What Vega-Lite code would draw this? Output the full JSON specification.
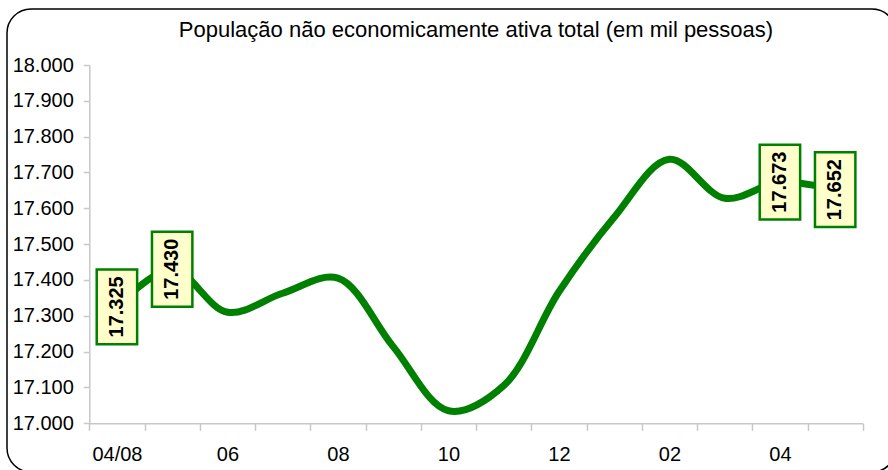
{
  "$schema": "https://vega.github.io/schema/vega-lite/v6.json",
  "width": 889,
  "height": 463,
  "autosize": {"type": "none"},
  "padding": {"left": 7, "top": 9, "right": -8, "bottom": -2},
  "background": "white",
  "config": {
    "locale": {"number": {"decimal": ",", "thousands": ".", "grouping": [3], "currency": ["R$", ""]}},
    "view": {"stroke": "black", "strokeWidth": 1.5, "cornerRadius": 24, "fill": "white"},
    "font": "Liberation Sans"
  },
  "title": {
    "text": "População não economicamente ativa total (em mil pessoas)",
    "anchor": "middle",
    "frame": "group",
    "dx": 24.5,
    "offset": -33,
    "font": "Liberation Sans",
    "fontSize": 22,
    "fontWeight": "normal",
    "color": "black"
  },
  "data": {
    "values": [
      {"m": "04/08", "v": 17325, "rotulo": true},
      {"m": "05/08", "v": 17430, "rotulo": true},
      {"m": "06", "v": 17310, "rotulo": false},
      {"m": "07", "v": 17363, "rotulo": false},
      {"m": "08", "v": 17405, "rotulo": false},
      {"m": "09", "v": 17214, "rotulo": false},
      {"m": "10", "v": 17035, "rotulo": false},
      {"m": "11", "v": 17105, "rotulo": false},
      {"m": "12", "v": 17367, "rotulo": false},
      {"m": "01", "v": 17575, "rotulo": false},
      {"m": "02", "v": 17737, "rotulo": false},
      {"m": "03", "v": 17628, "rotulo": false},
      {"m": "04", "v": 17673, "rotulo": true},
      {"m": "05", "v": 17652, "rotulo": true}
    ]
  },
  "encoding": {
    "x": {
      "field": "m",
      "type": "ordinal",
      "sort": null,
      "scale": {"type": "band", "range": [82.3, 855.8], "paddingInner": 0, "paddingOuter": 0},
      "axis": {
        "title": null,
        "offset": -48.7,
        "tickBand": "extent",
        "labelAngle": 0,
        "tickSize": 7,
        "tickColor": "#c8c8c8",
        "domainColor": "#c8c8c8",
        "domainWidth": 1.5,
        "tickWidth": 1.5,
        "labelFont": "Liberation Sans",
        "labelFontSize": 20,
        "labelColor": "black",
        "labelPadding": 14,
        "labelExpr": "indexof(['04/08','06','08','10','12','02','04'], datum.value) >= 0 ? datum.value : ''"
      }
    },
    "y": {
      "field": "v",
      "type": "quantitative",
      "scale": {"domain": [17000, 18000], "range": [414.3, 56], "nice": false, "zero": false},
      "axis": {
        "title": null,
        "offset": -82.3,
        "grid": false,
        "values": [17000, 17100, 17200, 17300, 17400, 17500, 17600, 17700, 17800, 17900, 18000],
        "format": ",.0f",
        "tickSize": 6,
        "tickColor": "#c8c8c8",
        "domainColor": "#c8c8c8",
        "domainWidth": 1.5,
        "tickWidth": 1.5,
        "labelFont": "Liberation Sans",
        "labelFontSize": 20,
        "labelColor": "black",
        "labelPadding": 10
      }
    }
  },
  "layer": [
    {
      "mark": {"type": "line", "color": "#008000", "strokeWidth": 7, "interpolate": "catmull-rom", "clip": false}
    },
    {
      "transform": [{"filter": "datum.rotulo"}],
      "mark": {
        "type": "point",
        "shape": "M-0.54,-1L0.54,-1L0.54,1L-0.54,1Z",
        "size": 5600,
        "filled": true,
        "fill": "#FFFFCC",
        "fillOpacity": 1,
        "stroke": "#008000",
        "strokeWidth": 2.5,
        "opacity": 1
      }
    },
    {
      "transform": [{"filter": "datum.rotulo"}],
      "mark": {
        "type": "text",
        "angle": 270,
        "align": "center",
        "baseline": "middle",
        "font": "Liberation Sans",
        "fontSize": 20,
        "fontWeight": "bold",
        "color": "black"
      },
      "encoding": {"text": {"field": "v", "type": "quantitative", "format": ",.0f"}}
    }
  ]
}
